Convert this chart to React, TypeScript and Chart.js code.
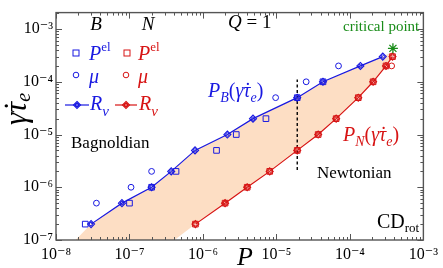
import { useEffect, useRef } from 'react';
import { Chart, registerables } from 'chart.js';

Chart.register(...registerables);

// ---- data ----
const shearRates = [2e-7, 5e-7, 1e-6, 2e-6, 5e-6, 1e-5, 2e-5, 5e-5, 1e-4, 2e-4, 3e-4];

const bagnoldRvP = [3.0e-8, 7.9e-8, 2.0e-7, 3.7e-7, 7.8e-7, 2.15e-6, 4.8e-6, 1.92e-5, 4.3e-5, 1.39e-4, 2.8e-4];
const bagnoldPelRates = [2e-7, 5e-7, 1e-6, 2e-6, 5e-6, 1e-5, 2e-5, 5e-5, 1e-4];
const bagnoldPelP = [2.5e-8, 1.0e-7, 2.0e-7, 4.3e-7, 1.53e-6, 2.84e-6, 7.2e-6, 1.92e-5, 4.3e-5];
const bagnoldMuRates = [5e-7, 1e-6, 2e-6, 5e-5, 1e-4, 2e-4];
const bagnoldMuP = [3.55e-8, 1.05e-7, 2.0e-7, 9.75e-6, 2.54e-5, 7.0e-5];

const newtonRvP = [7.9e-7, 2.0e-6, 4.0e-6, 8.1e-6, 1.92e-5, 3.7e-5, 6.5e-5, 1.3e-4, 2.07e-4, 3.1e-4, 3.8e-4];
const newtonPelP = [7.9e-7, 2.0e-6, 4.0e-6, 8.1e-6, 1.92e-5, 3.7e-5, 6.5e-5, 1.3e-4, 2.07e-4, 3.1e-4, 3.8e-4];
const newtonMuRates = [2e-4];
const newtonMuP = [3.7e-4];

const criticalP = [3.85e-4];
const criticalRate = [4.3e-4];

const dividerP = [1.92e-5, 1.92e-5];
const dividerRate = [2.12e-6, 1.1e-4];

// shaded region between the two boundaries
const regionUpperP = [1.85e-8, 3.0e-8, 7.9e-8, 2.0e-7, 3.7e-7, 7.8e-7, 2.15e-6, 4.8e-6, 1.92e-5, 4.3e-5, 1.39e-4, 2.8e-4, 3.75e-4];
const regionUpperRate = [1e-7, 2e-7, 5e-7, 1e-6, 2e-6, 5e-6, 1e-5, 2e-5, 5e-5, 1e-4, 2e-4, 3e-4, 3.66e-4];
const regionLowerP = [4.1e-7, 7.9e-7, 2.0e-6, 4.0e-6, 8.1e-6, 1.92e-5, 3.7e-5, 6.5e-5, 1.3e-4, 2.07e-4, 3.1e-4, 3.8e-4];
const regionLowerRate = [1e-7, 2e-7, 5e-7, 1e-6, 2e-6, 5e-6, 1e-5, 2e-5, 5e-5, 1e-4, 2e-4, 3e-4];

const xTickExponents = [-8, -7, -6, -5, -4, -3];
const yTickExponents = [-7, -6, -5, -4, -3];

// ---- styles ----
const BLUE = 'rgb(25,25,225)';
const RED = 'rgb(215,20,20)';
const FILL = 'rgb(253,222,196)';
const GREEN = 'rgb(25,140,25)';
const AXIS = '#555';
const FONT = '"Liberation Serif", "DejaVu Serif", serif';

const SUP: Record<string, string> = {
  '-': '\u207B', '0': '\u2070', '1': '\u00B9', '2': '\u00B2', '3': '\u00B3', '4': '\u2074',
  '5': '\u2075', '6': '\u2076', '7': '\u2077', '8': '\u2078', '9': '\u2079',
};
const fmtPow = (v: number) => {
  const e = Math.round(Math.log10(v));
  return '10' + String(e).split('').map((c) => SUP[c] || c).join('');
};

const pts = (xs: number[], ys: number[]) => xs.map((x, i) => ({ x, y: ys[i] }));

type Seg = { t: string; size: number; italic?: boolean; dy?: number };

function drawRich(ctx: CanvasRenderingContext2D, x: number, y: number, segs: Seg[], color: string, align: 'left' | 'center' = 'left') {
  ctx.fillStyle = color;
  ctx.textBaseline = 'alphabetic';
  ctx.textAlign = 'left';
  let w = 0;
  for (const s of segs) {
    ctx.font = `${s.italic ? 'italic ' : ''}${s.size}px ${FONT}`;
    w += ctx.measureText(s.t).width;
  }
  let cx = align === 'center' ? x - w / 2 : x;
  for (const s of segs) {
    ctx.font = `${s.italic ? 'italic ' : ''}${s.size}px ${FONT}`;
    ctx.fillText(s.t, cx, y + (s.dy || 0));
    cx += ctx.measureText(s.t).width;
  }
}

function line(ctx: CanvasRenderingContext2D, x1: number, y1: number, x2: number, y2: number) {
  ctx.beginPath();
  ctx.moveTo(x1, y1);
  ctx.lineTo(x2, y2);
  ctx.stroke();
}

function diamond(ctx: CanvasRenderingContext2D, x: number, y: number, r: number) {
  ctx.beginPath();
  ctx.moveTo(x, y - r);
  ctx.lineTo(x + r, y);
  ctx.lineTo(x, y + r);
  ctx.lineTo(x - r, y);
  ctx.closePath();
  ctx.stroke();
}

const overlay = {
  id: 'overlay',
  afterDraw(chart: any) {
    const ctx: CanvasRenderingContext2D = chart.ctx;
    const { left, right, top, bottom } = chart.chartArea;
    const xs = chart.scales.x;
    const ys = chart.scales.y;
    ctx.save();

    // inward ticks on all four sides
    ctx.strokeStyle = AXIS;
    ctx.lineWidth = 1;
    for (const e of xTickExponents) {
      for (let m = 1; m < 10; m++) {
        const v = m * Math.pow(10, e);
        if (v > xs.max * 1.0001) break;
        const px = Math.round(xs.getPixelForValue(v)) + 0.5;
        const len = m === 1 ? 6 : 3;
        line(ctx, px, bottom, px, bottom - len);
        line(ctx, px, top, px, top + len);
      }
    }
    for (const e of yTickExponents) {
      for (let m = 1; m < 10; m++) {
        const v = m * Math.pow(10, e);
        if (v > ys.max * 1.0001) break;
        const py = Math.round(ys.getPixelForValue(v)) + 0.5;
        const len = m === 1 ? 6 : 3;
        line(ctx, left, py, left + len, py);
        line(ctx, right, py, right - len, py);
      }
    }
    ctx.lineWidth = 1.4;
    ctx.strokeRect(left, top, right - left, bottom - top);

    // legend
    drawRich(ctx, 96, 30, [{ t: 'B', size: 19, italic: true }], '#000', 'center');
    drawRich(ctx, 148, 30, [{ t: 'N', size: 19, italic: true }], '#000', 'center');
    drawRich(ctx, 228, 28, [{ t: 'Q', size: 19, italic: true }, { t: ' = 1', size: 19 }], '#000');

    ctx.lineWidth = 1;
    ctx.strokeStyle = BLUE;
    ctx.strokeRect(73, 50, 6, 6);
    ctx.beginPath(); ctx.arc(76, 75, 2.8, 0, Math.PI * 2); ctx.stroke();
    ctx.lineWidth = 1.2;
    line(ctx, 65, 105, 89, 105);
    diamond(ctx, 77, 105, 3.5);
    ctx.beginPath(); ctx.arc(77, 105, 1.6, 0, Math.PI * 2); ctx.stroke();

    ctx.lineWidth = 1;
    ctx.strokeStyle = RED;
    ctx.strokeRect(124, 50, 6, 6);
    ctx.beginPath(); ctx.arc(126, 75, 2.8, 0, Math.PI * 2); ctx.stroke();
    ctx.lineWidth = 1.2;
    line(ctx, 115, 105, 137, 105);
    diamond(ctx, 126, 105, 3.5);
    ctx.beginPath(); ctx.arc(126, 105, 1.6, 0, Math.PI * 2); ctx.stroke();

    drawRich(ctx, 89, 60, [{ t: 'P', size: 20, italic: true }, { t: 'el', size: 13, dy: -9 }], BLUE);
    drawRich(ctx, 138, 60, [{ t: 'P', size: 20, italic: true }, { t: 'el', size: 13, dy: -9 }], RED);
    drawRich(ctx, 89, 83, [{ t: 'μ', size: 20, italic: true }], BLUE);
    drawRich(ctx, 138, 83, [{ t: 'μ', size: 20, italic: true }], RED);
    drawRich(ctx, 90, 110, [{ t: 'R', size: 20, italic: true }, { t: 'v', size: 15, italic: true, dy: 6 }], BLUE);
    drawRich(ctx, 139, 110, [{ t: 'R', size: 20, italic: true }, { t: 'v', size: 15, italic: true, dy: 6 }], RED);

    // annotations
    const curve = (sub: string): Seg[] => [
      { t: 'P', size: 20, italic: true },
      { t: sub, size: 14, italic: true, dy: 5 },
      { t: '(', size: 20 },
      { t: 'γ\u0307τ', size: 20, italic: true },
      { t: 'e', size: 14, italic: true, dy: 5 },
      { t: ')', size: 20 },
    ];
    drawRich(ctx, 208, 97, curve('B'), BLUE);
    drawRich(ctx, 343, 141, curve('N'), RED);
    drawRich(ctx, 71, 148, [{ t: 'Bagnoldian', size: 17 }], '#000');
    drawRich(ctx, 317, 178, [{ t: 'Newtonian', size: 17 }], '#000');
    drawRich(ctx, 377, 228, [{ t: 'CD', size: 20 }, { t: 'rot', size: 13, dy: 4 }], '#000');
    drawRich(ctx, 343, 31, [{ t: 'critical point', size: 15 }], GREEN);

    // axis titles
    drawRich(ctx, 245, 265, [{ t: 'P', size: 26, italic: true }], '#000', 'center');
    ctx.save();
    ctx.translate(26, 109);
    ctx.rotate(-Math.PI / 2);
    drawRich(ctx, 0, 0, [{ t: 'γ\u0307τ', size: 31, italic: true }, { t: 'e', size: 20, italic: true, dy: 4 }], '#000', 'center');
    ctx.restore();

    ctx.restore();
  },
};

export default function App() {
  const ref = useRef<HTMLCanvasElement>(null);

  useEffect(() => {
    if (!ref.current) return;
    const region = [...pts(regionUpperP, regionUpperRate), ...pts(regionLowerP, regionLowerRate).reverse()];
    const chart = new Chart(ref.current, {
      type: 'line',
      data: {
        datasets: [
          {
            label: 'region', data: region, fill: 'shape', backgroundColor: FILL,
            borderColor: 'rgba(0,0,0,0)', borderWidth: 0, pointRadius: 0, showLine: true, order: 10,
          },
          {
            label: 'divider', data: pts(dividerP, dividerRate), borderColor: '#000', borderWidth: 1.4,
            borderDash: [3, 2.5], pointRadius: 0, fill: false, showLine: true, order: 6,
          },
          {
            label: 'B Rv', data: pts(bagnoldRvP, shearRates), borderColor: BLUE, borderWidth: 1.2,
            pointStyle: 'rectRot', pointRadius: 3.5, pointBorderWidth: 1.1, pointBorderColor: BLUE,
            pointBackgroundColor: 'rgba(0,0,0,0)', fill: false, showLine: true, order: 3,
          },
          {
            label: 'B Rv c', data: pts(bagnoldRvP, shearRates), showLine: false, pointStyle: 'circle',
            pointRadius: 1.7, pointBorderWidth: 1, pointBorderColor: BLUE, pointBackgroundColor: 'rgba(0,0,0,0)', order: 2,
          },
          {
            label: 'B Pel', data: pts(bagnoldPelP, bagnoldPelRates), showLine: false, pointStyle: 'rect',
            pointRadius: 4, pointBorderWidth: 1, pointBorderColor: BLUE, pointBackgroundColor: 'rgba(0,0,0,0)', order: 2,
          },
          {
            label: 'B mu', data: pts(bagnoldMuP, bagnoldMuRates), showLine: false, pointStyle: 'circle',
            pointRadius: 2.9, pointBorderWidth: 1, pointBorderColor: BLUE, pointBackgroundColor: 'rgba(0,0,0,0)', order: 2,
          },
          {
            label: 'N Rv', data: pts(newtonRvP, shearRates), borderColor: RED, borderWidth: 1.2,
            pointStyle: 'rectRot', pointRadius: 3.5, pointBorderWidth: 1.1, pointBorderColor: RED,
            pointBackgroundColor: 'rgba(0,0,0,0)', fill: false, showLine: true, order: 3,
          },
          {
            label: 'N Rv c', data: pts(newtonRvP, shearRates), showLine: false, pointStyle: 'circle',
            pointRadius: 1.7, pointBorderWidth: 1, pointBorderColor: RED, pointBackgroundColor: 'rgba(0,0,0,0)', order: 2,
          },
          {
            label: 'N Pel', data: pts(newtonPelP, shearRates), showLine: false, pointStyle: 'rect',
            pointRadius: 4, pointBorderWidth: 1, pointBorderColor: RED, pointBackgroundColor: 'rgba(0,0,0,0)', order: 2,
          },
          {
            label: 'N mu', data: pts(newtonMuP, newtonMuRates), showLine: false, pointStyle: 'circle',
            pointRadius: 2.9, pointBorderWidth: 1, pointBorderColor: RED, pointBackgroundColor: 'rgba(0,0,0,0)', order: 2,
          },
          {
            label: 'critical', data: pts(criticalP, criticalRate), showLine: false, pointStyle: 'star',
            pointRadius: 5, pointBorderWidth: 1.3, pointBorderColor: GREEN, order: 1,
          },
        ] as any,
      },
      options: {
        animation: false,
        responsive: false,
        layout: { padding: { left: 0, right: 13, top: 6, bottom: 0 } },
        plugins: { legend: { display: false }, tooltip: { enabled: false } },
        scales: {
          x: {
            type: 'logarithmic', min: 1e-8, max: 1e-3,
            grid: { display: false, drawTicks: false }, border: { display: false },
            ticks: {
              font: { family: FONT, size: 16 }, color: '#000', padding: 5, autoSkip: false, maxRotation: 0,
              callback: (v: any) => fmtPow(Number(v)),
            },
            afterBuildTicks: (s: any) => { s.ticks = xTickExponents.map((e) => ({ value: Math.pow(10, e) })); },
            afterFit: (s: any) => { s.height = 28; },
          },
          y: {
            type: 'logarithmic', min: 1e-7, max: 2.05e-3,
            grid: { display: false, drawTicks: false }, border: { display: false },
            ticks: {
              font: { family: FONT, size: 16 }, color: '#000', padding: 3, autoSkip: false,
              callback: (v: any) => fmtPow(Number(v)),
            },
            afterBuildTicks: (s: any) => { s.ticks = yTickExponents.map((e) => ({ value: Math.pow(10, e) })); },
            afterFit: (s: any) => { s.width = 56; },
          },
        },
      } as any,
      plugins: [overlay],
    });
    return () => chart.destroy();
  }, []);

  return (
    <div style={{ position: 'absolute', left: 0, top: 0, width: 443, height: 268, background: '#fff' }}>
      <canvas ref={ref} width={443} height={268} style={{ display: 'block' }} />
    </div>
  );
}
